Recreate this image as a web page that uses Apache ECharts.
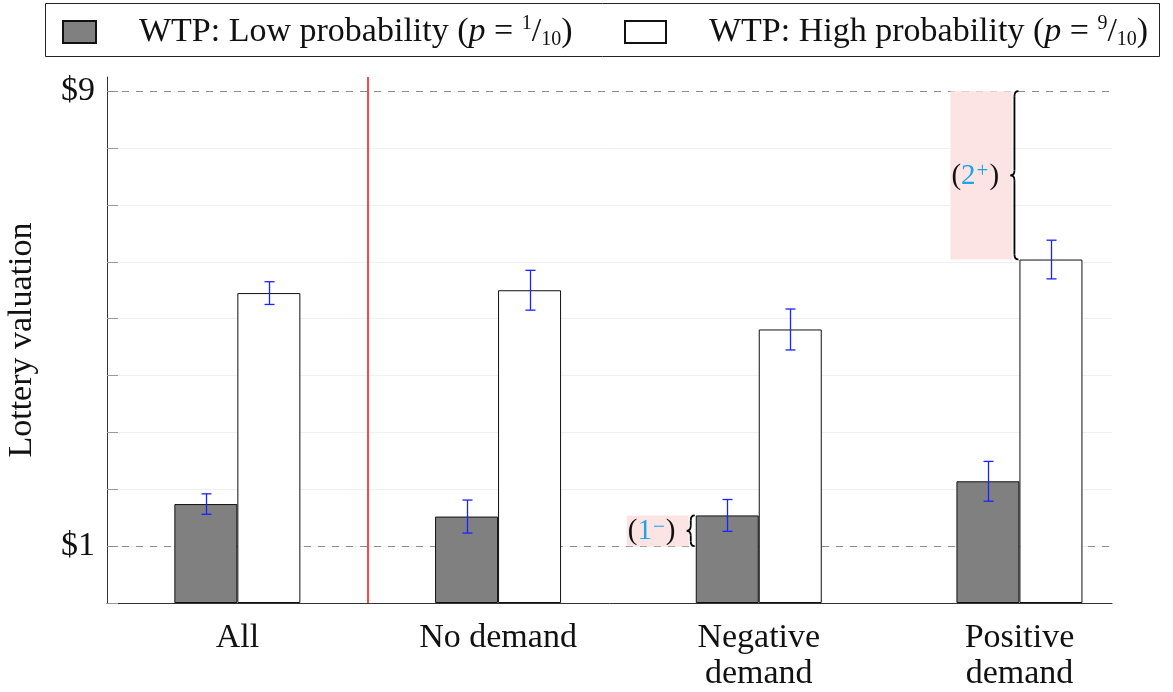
<!DOCTYPE html>
<html><head><meta charset="utf-8">
<script src="https://cdn.jsdelivr.net/npm/echarts@6/dist/echarts.min.js"></script>
<style>html,body{margin:0;padding:0;background:#fff}#c{width:1173px;height:692px}</style>
</head><body><div id="c"></div>
<script>
// ---------- data ----------
const categories = ['All', 'No demand', 'Negative\ndemand', 'Positive\ndemand'];
const groupPos = [0, 1, 2, 3];
const lowValues = [1.74, 1.52, 1.54, 2.14];
const lowErrors = [0.18, 0.29, 0.28, 0.35];
const highValues = [5.45, 5.50, 4.81, 6.04];
const highErrors = [0.20, 0.35, 0.36, 0.34];
const yTicks = [0, 1, 2, 3, 4, 5, 6, 7, 8, 9];
const yTickLabels = { 1: '$1', 9: '$9' };
const refLines = [1, 9];
const dividerAt = [0.5];
const annoGroups = [2, 3];
const annoSide = [0, 1];       // 0 = low-probability bar, 1 = high-probability bar
const annoRef = [1, 9];
const annoNum = ['1', '2'];
const annoSign = ['−', '+'];
const seriesNames = ['WTP: Low probability', 'WTP: High probability'];
const fractions = [['1', '10'], ['9', '10']];

// ---------- styling ----------
const FONT = 'Liberation Serif';
const FS = 34;
const BAR_W = 63;
const TXT = '#111';
const Y_MIN = 0, Y_MAX = 9.25, X_MIN = -0.5, X_MAX = 3.355;

const lowData = groupPos.map((g, i) => [g, lowValues[i]]);
const highData = groupPos.map((g, i) => [g, highValues[i]]);
const lowErrData = groupPos.map((g, i) => [g, lowValues[i], lowErrors[i]]);
const highErrData = groupPos.map((g, i) => [g, highValues[i], highErrors[i]]);
const annoData = annoGroups.map((g, i) => {
  const v = annoSide[i] === 0 ? lowValues[g] : highValues[g];
  return [g, Math.min(v, annoRef[i]), Math.max(v, annoRef[i]), annoSide[i], i];
});

function errRender(sign) {
  return function (params, api) {
    const x = api.value(0), v = api.value(1), e = api.value(2);
    const cx = Math.round(api.coord([x, v])[0] + sign * BAR_W / 2) + 0.5;
    const yt = api.coord([x, v + e])[1];
    const yb = api.coord([x, v - e])[1];
    const st = { stroke: '#1a22ff', lineWidth: 1.3 };
    return {
      type: 'group', children: [
        { type: 'line', shape: { x1: cx, y1: yt, x2: cx, y2: yb }, style: st },
        { type: 'line', shape: { x1: cx - 5, y1: yt, x2: cx + 5, y2: yt }, style: st },
        { type: 'line', shape: { x1: cx - 5, y1: yb, x2: cx + 5, y2: yb }, style: st }
      ]
    };
  };
}

function hLineRender(params, api) {
  const v = api.value(0);
  const p1 = api.coord([X_MIN, v]), p2 = api.coord([X_MAX, v]);
  const y = Math.round(p1[1]) + 0.5;
  return { type: 'line', shape: { x1: p1[0] + 1, y1: y, x2: p2[0], y2: y },
    style: { stroke: '#8c8c8c', lineWidth: 1, lineDash: [7, 7] } };
}
function vLineRender(params, api) {
  const v = api.value(0);
  const p1 = api.coord([v, Y_MIN]), p2 = api.coord([v, Y_MAX]);
  const x = Math.round(p1[0]);
  return { type: 'line', shape: { x1: x, y1: p1[1], x2: x, y2: p2[1] },
    style: { stroke: '#ff1a1a', lineWidth: 1.6 } };
}

function annoRender(params, api) {
  const g = api.value(0), yLo = api.value(1), yHi = api.value(2), side = api.value(3), idx = api.value(4);
  const cx = api.coord([g, 0])[0];
  const barLeft = side === 0 ? cx - BAR_W : cx;
  const yt = api.coord([g, yHi])[1];
  const yb = api.coord([g, yLo])[1];
  const rectRight = barLeft - 7, rectW = 62, rectLeft = rectRight - rectW;
  const xr = barLeft - 1, xm = barLeft - 5, xl = barLeft - 9;
  const ym = (yt + yb) / 2;
  const r = Math.min(5, (yb - yt) / 4);
  const bst = { stroke: '#000', lineWidth: 1.8, fill: null };
  const brace = [
    { type: 'bezierCurve', shape: { x1: xr, y1: yt, x2: xm, y2: yt + r, cpx1: xm, cpy1: yt }, style: bst },
    { type: 'line', shape: { x1: xm, y1: yt + r, x2: xm, y2: ym - r }, style: bst },
    { type: 'bezierCurve', shape: { x1: xm, y1: ym - r, x2: xl, y2: ym, cpx1: xm, cpy1: ym }, style: bst },
    { type: 'bezierCurve', shape: { x1: xl, y1: ym, x2: xm, y2: ym + r, cpx1: xm, cpy1: ym }, style: bst },
    { type: 'line', shape: { x1: xm, y1: ym + r, x2: xm, y2: yb - r }, style: bst },
    { type: 'bezierCurve', shape: { x1: xm, y1: yb - r, x2: xr, y2: yb, cpx1: xm, cpy1: yb }, style: bst }
  ];
  return {
    type: 'group', children: [
      { type: 'rect', shape: { x: rectLeft, y: yt, width: rectW, height: yb - yt }, style: { fill: '#fde4e4' } },
      ...brace,
      {
        type: 'text',
        style: {
          x: rectLeft + 1, y: ym + 1,
          text: '{p|(}{c|' + annoNum[idx] + '}{s|' + annoSign[idx] + '}{p|)}',
          align: 'left', verticalAlign: 'middle',
          rich: {
            p: { fontFamily: FONT, fontSize: 29, fill: '#111', lineHeight: 30 },
            c: { fontFamily: FONT, fontSize: 29, fill: '#1aa7e6', lineHeight: 30 },
            s: { fontFamily: FONT, fontSize: 21, fill: '#1aa7e6', lineHeight: 30, verticalAlign: 'top', padding: [0, 1, 0, 1] }
          }
        }
      }
    ]
  };
}

function legendFormatter(name) {
  const i = seriesNames.indexOf(name);
  return name + ' ({i|p} = {sup|' + fractions[i][0] + '}{sl|/}{sub|' + fractions[i][1] + '})';
}
const legendText = {
  fontFamily: FONT, fontSize: FS, color: TXT, padding: [0, 0, 0, 38],
  rich: {
    i: { fontFamily: FONT, fontSize: FS, fontStyle: 'italic', color: TXT },
    sup: { fontFamily: FONT, fontSize: 20, color: TXT, verticalAlign: 'top', lineHeight: 36 },
    sl: { fontFamily: FONT, fontSize: FS, color: TXT },
    sub: { fontFamily: FONT, fontSize: 20, color: TXT, verticalAlign: 'bottom', lineHeight: 32 }
  }
};

const chart = echarts.init(document.getElementById('c'), null, { renderer: 'canvas' });
chart.setOption({
  animation: false,
  backgroundColor: '#fff',
  textStyle: { fontFamily: FONT },
  graphic: [{
    type: 'rect', shape: { x: 45.5, y: 3.5, width: 1114, height: 53 },
    style: { fill: null, stroke: '#222', lineWidth: 1 }, z: 10
  }],
  legend: [
    { data: [seriesNames[0]], left: 62, top: 14, padding: 0, itemWidth: 33, itemHeight: 22, icon: 'rect',
      formatter: legendFormatter, textStyle: legendText, selectedMode: false },
    { data: [seriesNames[1]], left: 624, top: 14, padding: 0, itemWidth: 41, itemHeight: 22, icon: 'rect',
      formatter: legendFormatter, textStyle: legendText, selectedMode: false }
  ],
  grid: { left: 107, right: 61, top: 77, bottom: 89, containLabel: false, outerBoundsMode: 'none' },
  xAxis: {
    type: 'value', min: X_MIN, max: X_MAX,
    axisLine: { onZero: false, lineStyle: { color: '#333', width: 1 } },
    axisTick: { show: false },
    splitLine: { show: false },
    axisLabel: {
      customValues: groupPos, formatter: v => categories[Math.round(v)],
      fontFamily: FONT, fontSize: FS, color: TXT, margin: 17, lineHeight: 36
    }
  },
  yAxis: {
    type: 'value', min: Y_MIN, max: Y_MAX, interval: 1,
    name: 'Lottery valuation', nameLocation: 'middle', nameGap: 68,
    nameTextStyle: { fontFamily: FONT, fontSize: FS, color: TXT },
    axisLine: { show: true, onZero: false, lineStyle: { color: '#333', width: 1 } },
    axisTick: { show: true, inside: true, length: 11, customValues: yTicks, lineStyle: { color: '#999' } },
    axisLabel: { formatter: v => yTickLabels[v] || '', customValues: refLines, fontFamily: FONT, fontSize: FS, color: TXT, margin: 12 },
    splitLine: { show: true, showMaxLine: false, lineStyle: { color: '#f0f0f0' } }
  },
  series: [
    { type: 'custom', data: refLines.map(v => [v]), renderItem: hLineRender, encode: { y: 0 }, z: 1, silent: true },
    { type: 'custom', data: dividerAt.map(v => [v]), renderItem: vLineRender, encode: { x: 0 }, z: 4, silent: true },
    {
      name: seriesNames[0], type: 'bar', data: lowData, barWidth: BAR_W, barGap: '0%',
      itemStyle: { color: '#808080', borderColor: '#111', borderWidth: 1 }, z: 3
    },
    {
      name: seriesNames[1], type: 'bar', data: highData, barWidth: BAR_W, barGap: '0%',
      itemStyle: { color: '#ffffff', borderColor: '#111', borderWidth: 1 }, z: 3
    },
    { type: 'custom', data: lowErrData, renderItem: errRender(-1), encode: { x: 0, y: 1 }, z: 6, silent: true },
    { type: 'custom', data: highErrData, renderItem: errRender(1), encode: { x: 0, y: 1 }, z: 6, silent: true },
    { type: 'custom', data: annoData, renderItem: annoRender, encode: { x: 0, y: [1, 2] }, z: 5, clip: false, silent: true }
  ]
});
</script></body></html>
